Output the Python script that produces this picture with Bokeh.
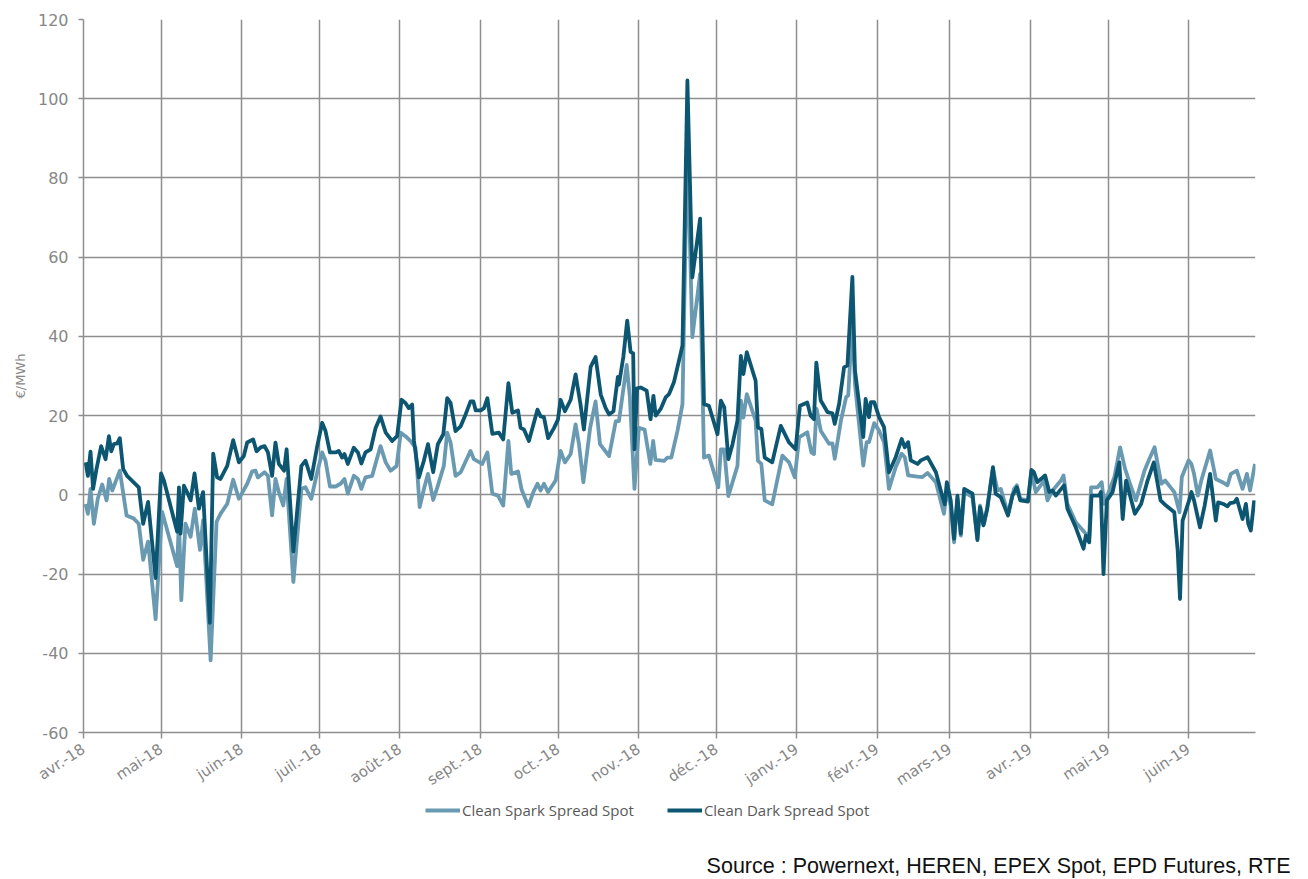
import math
import pandas as pd
from bokeh.plotting import figure
from bokeh.layouts import column, row
from bokeh.models import (Range1d, FixedTicker, Legend, LegendItem, Title, Div)
from bokeh.embed import file_html
from bokeh.resources import INLINE

# ---------------- data (days since 1 April 2018, €/MWh) ----------------
spark_day = [0.8, 1.7, 2.7, 4.0, 5.5, 7.2, 8.9, 9.9, 11.1, 14.0, 16.6, 19.4, 21.3, 23.0, 24.9, 27.8,
             30.3, 36.1, 36.8, 37.7, 39.3, 41.3, 42.9, 44.9, 46.1, 49.0, 51.3, 52.8, 55.4, 57.7,
             59.9, 63.1, 65.0, 66.3, 67.2, 69.8, 71.1, 72.7, 74.0,
             75.3, 77.0, 78.3, 80.9, 84.0, 85.6, 87.8, 90.1, 92.0, 93.3, 95.0, 97.2, 99.1, 100.6,
             101.9, 104.2, 105.8, 107.1, 108.7, 111.3, 112.9, 114.5, 116.5, 118.4, 120.7, 122.3,
             124.1, 126.0, 128.0, 129.6, 131.4, 132.8, 134.8, 136.4, 138.9, 140.2, 141.5, 143.4,
             145.4, 149.2, 150.5, 153.7, 155.7, 157.6, 159.8, 161.8, 163.8, 164.9, 167.5, 168.9,
             171.5, 173.4, 175.0, 176.2, 177.5, 179.1, 182.0, 183.9, 185.6, 187.8, 189.7, 191.0,
             192.7, 195.3, 197.4, 199.1, 202.6, 205.2, 206.4, 209.4, 210.6, 212.4, 214.1,
             216.3, 218.5, 219.6, 220.5, 223.8, 225.1, 226.6, 229.0, 230.9, 232.8, 234.7, 237.7,
             239.2, 241.1, 244.7, 245.7, 247.0, 248.6, 252.1, 253.4, 254.4, 255.7, 259.1, 260.0,
             261.3, 262.6, 265.5, 269.4, 272.0, 274.2, 275.9, 279.0, 280.6, 281.6, 282.6,
             284.2, 287.4, 288.7, 289.6, 292.0, 294.0, 294.8, 296.4, 297.4, 300.6, 301.9, 302.8,
             304.8, 306.7, 308.6, 310.5, 313.1, 315.4, 316.6, 317.9, 321.5, 323.4, 325.4, 328.6,
             331.7, 332.8, 334.3, 335.6, 336.9, 338.2, 339.5, 342.7, 344.6, 345.6, 347.2, 348.4,
             350.6, 352.3,
             353.6, 356.4, 358.7, 359.8, 361.1, 364.1, 365.4, 367.1, 370.3, 371.6, 373.6, 376.8,
             377.8, 379.3, 382.5, 386.4, 387.7, 388.4, 390.9, 392.5, 393.5, 395.0, 397.4, 399.6,
             401.5, 403.2, 405.7, 409.0, 410.9, 412.9, 415.5, 417.0, 420.5, 422.5, 423.4, 426.0,
             427.1, 428.1, 429.6, 430.9, 434.3, 436.5, 439.1, 441.0, 442.3, 444.6, 446.8, 448.5,
             449.7, 451.6]
spark_val = [-2.3, -4.8, 1.5, -7.3, -1.0, 2.6, -1.4, 4.0, 1.1, 6.1, -5.2, -6.0, -7.3, -16.4, -11.8, -31.4,
             -4.3, -18.0, -6.4, -26.6, -7.3, -10.6, -3.5, -13.9, -6.4, -41.8, -6.8, -4.8, -2.3, 3.8,
             -1.0, 2.8, 5.9, 6.1, 4.4, 5.7, 4.8, -5.2, 4.0,
             0.7, -2.7, 4.0, -22.0, 1.5, 1.9, -1.0, 5.7, 10.7, 8.6, 2.1, 2.1, 2.8, 4.0,
             0.3, 4.8, 4.0, 1.5, 4.4, 4.8, 8.6, 12.3, 8.2, 6.1, 7.3, 15.7,
             14.8, 13.6, 11.9, -3.1, 1.9, 5.3, -1.3, 1.9, 7.3, 15.7, 13.2, 4.8,
             5.7, 11.1, 9.0, 7.8, 10.7, 0.3, -0.2, -2.7, 13.6, 5.3, 5.9, 1.3,
             -2.9, 0.7, 2.8, 1.1, 2.8, 0.7, 3.6, 11.1, 8.2, 10.3, 17.8, 12.8,
             3.2, 16.9, 23.6, 12.8, 9.8, 18.6, 18.6, 32.8, 24.8, 1.5, 16.9,
             16.5, 7.8, 13.6, 8.8, 8.6, 9.4, 9.4, 16.2, 22.9, 90.0, 39.8, 55.8,
             9.4, 9.9, 1.9, 11.5, 11.5, -0.3, 7.3, 23.8, 19.5, 25.4, 18.7, 8.6,
             7.8, -1.4, -2.4, 9.9, 8.2, 4.4, 14.5, 15.8, 10.7, 10.3, 21.7,
             16.2, 12.9, 13.0, 9.1, 18.8, 24.7, 25.1, 44.0, 28.0, 7.4, 13.3, 13.3,
             18.1, 16.2, 13.3, 1.5, 7.0, 10.4, 9.5, 4.9, 4.6, 4.5, 5.5, 3.2,
             -4.8, 1.1, -2.7, -12.0, -1.0, -10.3, 0.7, -0.6, -11.1, -2.7, -7.3, -3.1,
             6.6, 1.1,
             1.5, -4.8, 1.5, 2.4, -1.0, -1.4, 5.7, 0.7, 3.6, -1.4, 1.1, 3.6,
             4.9, -2.3, -6.9, -9.8, -10.7, 1.9, 1.9, 3.2, -2.3, 0.3, 4.5, 12.0,
             6.6, 3.2, -1.4, 6.1, 9.1, 12.0, 2.8, 3.6, 0.7, -4.4, 4.5, 8.7,
             7.8, 5.3, -0.2, 3.6, 11.2, 4.0, 3.2, 2.4, 5.3, 6.1, 1.5, 5.3,
             1.1, 7.8]

dark_day = [0.8, 1.7, 2.7, 3.7, 5.0, 6.8, 8.5, 9.8, 10.7, 11.7, 13.0, 14.0, 15.3, 16.8, 21.3, 23.0,
            24.9, 27.8, 29.9, 31.0, 36.1, 36.8, 37.4, 38.7, 40.2, 41.3, 42.8, 44.5, 46.1, 48.7,
            50.0, 51.5, 52.8, 55.4, 57.7, 59.9, 61.8, 63.1, 65.4, 66.7, 68.3, 69.8, 71.1, 72.7, 74.0,
            75.3, 77.3, 78.3, 80.9, 84.0, 85.6, 87.8, 90.1, 92.0, 93.3, 95.0, 97.2, 98.4, 99.7,
            100.6, 101.9, 104.2, 105.8, 107.1, 108.7, 110.7, 112.6, 114.5, 116.5, 119.0, 120.9,
            122.6, 124.1, 125.4, 126.7, 127.4, 129.3, 131.2, 132.8, 134.8, 136.6, 138.7, 140.2,
            141.5, 143.4,
            145.4, 147.3, 149.2, 150.3, 151.2, 153.1, 154.4, 155.7, 157.6, 160.1, 161.8, 163.8,
            165.3, 167.5, 168.5, 169.8, 171.7, 173.7, 175.0, 176.2, 177.5, 179.1, 181.4, 182.9,
            183.9, 185.6, 187.8, 189.7, 191.6, 192.9, 195.5, 197.4, 199.4, 201.3, 202.6, 204.3,
            206.0, 206.4, 208.1, 209.6, 210.9, 211.9, 212.4, 213.4,
            214.8, 217.1, 218.6, 219.7, 220.6, 222.5, 224.4, 225.7, 227.6, 230.9, 232.8, 234.7,
            237.7, 239.2, 241.1, 244.4, 245.7, 247.0, 248.6, 250.2, 252.1, 253.4, 254.4, 255.7,
            259.1, 260.0, 261.3, 262.6, 265.5, 268.8, 272.0, 274.5, 276.2, 279.0, 280.3, 281.6,
            282.5,
            284.2, 286.8, 288.7, 289.6, 291.3, 293.2, 294.5, 296.4, 297.4, 300.6, 301.5, 302.8,
            303.5, 304.8, 306.7, 308.6, 310.5, 313.1, 315.4, 316.6, 317.9, 318.9, 321.5, 322.8,
            325.4, 328.6, 330.8, 332.0, 332.8, 334.3, 335.6, 336.9, 338.2, 339.5, 342.7, 344.6,
            345.6, 346.9, 348.4, 350.6, 351.6,
            353.6, 356.4, 358.1, 359.8, 361.1, 364.1, 365.4, 366.4, 367.7, 370.7, 372.3, 373.6,
            374.8, 378.0, 379.3, 382.5, 385.5, 386.4, 387.7, 388.6, 391.5, 392.2, 393.2, 394.5,
            396.7, 399.3, 400.6, 401.9, 405.3, 407.7, 410.2, 412.6, 415.2, 416.6, 420.5, 421.8,
            422.7, 423.7, 426.2, 427.1, 428.1, 430.4, 432.2, 434.3, 436.5, 437.4, 439.4, 441.0,
            442.0, 443.6, 444.6, 446.8, 448.1, 449.0, 450.0, 451.3]
dark_val = [8.2, 4.8, 10.9, 1.5, 6.5, 12.3, 9.0, 14.8, 11.0, 12.8, 13.0, 14.3, 6.5, 4.8, 1.9, -7.3,
            -1.8, -21.0, 5.4, 3.6, -9.3, 1.9, -9.8, 2.3, 0.3, -1.4, 5.4, -3.5, 0.7, -32.3,
            10.4, 4.4, 4.0, 7.3, 13.8, 8.2, 9.8, 13.2, 14.0, 11.0, 12.0, 12.3, 10.7, 4.8, 13.2,
            7.8, 6.1, 11.5, -14.3, 7.3, 8.6, 4.0, 12.3, 18.2, 16.1, 10.7, 10.7, 11.1, 9.4,
            10.3, 7.8, 11.9, 10.7, 7.9, 10.7, 11.5, 16.9, 19.8, 15.7, 13.6, 14.8,
            24.0, 23.2, 21.9, 22.8, 13.6, 4.4, 8.6, 12.8, 5.7, 12.8, 15.3, 24.4,
            23.2, 16.1,
            17.3, 20.3, 23.6, 23.6, 21.3, 21.3, 21.9, 24.4, 15.4, 15.7, 14.0, 28.2,
            20.7, 21.3, 16.9, 16.5, 13.6, 18.4, 21.5, 19.8, 19.6, 14.3, 16.9, 19.0,
            24.0, 21.1, 24.0, 30.4, 22.8, 16.5, 32.3, 34.8, 25.3, 21.9, 20.3, 21.1,
            29.8, 27.8, 34.8, 44.0, 36.1, 35.7, 11.5, 26.9,
            27.1, 26.3, 19.1, 25.0, 20.0, 21.7, 24.6, 25.4, 28.4, 37.7, 104.6, 54.9,
            69.7, 22.9, 22.5, 15.3, 23.8, 22.1, 9.0, 12.8, 18.7, 35.1, 30.5, 36.0,
            28.8, 17.0, 16.6, 9.4, 8.2, 17.4, 13.2, 11.5, 22.5, 23.3, 20.0, 19.1,
            33.4,
            23.8, 20.9, 20.6, 17.9, 23.0, 32.2, 32.7, 55.0, 31.4, 14.6, 24.2, 19.6,
            23.4, 23.4, 19.6, 17.1, 5.7, 9.5, 14.1, 12.0, 13.3, 8.7, 7.8, 8.7,
            9.5, 5.7, 0.3, -2.4, 3.2, -1.4, -11.1, -0.2, -9.8, 1.5, 0.3, -11.4,
            -3.1, -7.7, -3.5, 7.0, 0.3,
            -0.6, -5.2, -0.2, 1.9, -1.4, -1.7, 6.3, 5.7, 3.2, 4.9, 0.7, 1.1,
            -0.2, 2.4, -3.5, -8.2, -13.6, -10.3, -12.0, -0.2, -0.2, 0.7, -20.0, -1.4,
            0.7, 8.2, -6.1, 3.6, -4.8, -2.3, 3.6, 8.2, -1.4, -2.3, -4.4, -14.1,
            -26.3, -6.5, -1.4, 0.7, -1.4, -8.2, -2.7, 5.3, -6.5, -1.9, -2.3, -2.9,
            -2.1, -1.9, -1.0, -6.1, -2.3, -7.3, -9.0, -1.4]

month_labels = ["avr.-18", "mai-18", "juin-18", "juil.-18", "août-18", "sept.-18", "oct.-18",
                "nov.-18", "déc.-18", "janv.-19", "févr.-19", "mars-19", "avr.-19", "mai-19",
                "juin-19"]
y_ticks = [-60, -40, -20, 0, 20, 40, 60, 80, 100, 120]
y_tick_labels = ["-60", "-40", "-20", "0", "20", "40", "60", "80", "100", "120"]

series_names = ["Clean Spark Spread Spot", "Clean Dark Spread Spot"]
y_title = "€/MWh"
source_text = "Source : Powernext, HEREN, EPEX Spot, EPD Futures, RTE"

# ---------------- main chart ----------------
base = pd.Timestamp("2018-04-01")
month_starts = pd.date_range("2018-04-01", "2019-06-01", freq="MS")
month_ticks = [int((d - base).days) for d in month_starts]

W = 1305
H_MAIN = 800
H_FOOT = 79

p = figure(width=W, height=H_MAIN, output_backend="svg", toolbar_location=None,
           x_range=Range1d(0, 451.8), y_range=Range1d(-60, 120),
           min_border_left=83, min_border_top=19, min_border_right=W - 1255,
           min_border_bottom=H_MAIN - 732)
p.outline_line_color = None
p.background_fill_color = "white"
p.border_fill_color = "white"

light = "#6a9ab1"
dark = "#0d5672"
grid_c = "#8e8e8e"
text_grey = "#878787"

p.line(spark_day, spark_val, line_color=light, line_width=3.8, line_join="round")
p.line(dark_day, dark_val, line_color=dark, line_width=3.8, line_join="round")

# x axis
p.xaxis.ticker = FixedTicker(ticks=month_ticks)
p.xaxis.major_label_overrides = {t: lab for t, lab in zip(month_ticks, month_labels)}
p.xaxis.major_label_orientation = 0.58
p.xaxis.major_label_text_font = "DejaVu Sans"
p.xaxis.major_label_text_font_size = "15px"
p.xaxis.major_label_text_color = text_grey
p.xaxis.axis_line_color = grid_c
p.xaxis.axis_line_width = 1.5
p.xaxis.major_tick_line_color = grid_c
p.xaxis.major_tick_line_width = 1.5
p.xaxis.major_tick_out = 6
p.xaxis.major_tick_in = 0
p.xaxis.minor_tick_line_color = None
p.xaxis.major_label_standoff = 9

# y axis
p.yaxis.ticker = FixedTicker(ticks=y_ticks)
p.yaxis.major_label_overrides = {t: lab for t, lab in zip(y_ticks, y_tick_labels)}
p.yaxis.major_label_text_font = "DejaVu Sans"
p.yaxis.major_label_text_font_size = "16px"
p.yaxis.major_label_text_color = text_grey
p.yaxis.axis_line_color = grid_c
p.yaxis.axis_line_width = 1.5
p.yaxis.major_tick_line_color = grid_c
p.yaxis.major_tick_line_width = 1.5
p.yaxis.major_tick_out = 5
p.yaxis.major_tick_in = 0
p.yaxis.minor_tick_line_color = None
p.yaxis.major_label_standoff = 10
p.yaxis.axis_label = y_title
p.yaxis.axis_label_text_font = "DejaVu Sans"
p.yaxis.axis_label_text_font_style = "normal"
p.yaxis.axis_label_text_font_size = "13px"
p.yaxis.axis_label_text_color = text_grey
p.yaxis.axis_label_standoff = 7

p.xgrid.ticker = FixedTicker(ticks=month_ticks)
p.ygrid.ticker = FixedTicker(ticks=y_ticks)
p.xgrid.grid_line_color = grid_c
p.ygrid.grid_line_color = grid_c
p.xgrid.grid_line_width = 1.5
p.ygrid.grid_line_width = 1.5

# ---------------- footer: legend + source ----------------
f = figure(width=W, height=H_FOOT, output_backend="svg", toolbar_location=None,
           x_range=Range1d(83, 1255), y_range=Range1d(0, 1),
           min_border_left=83, min_border_right=W - 1255, min_border_top=0,
           min_border_bottom=4, x_axis_type=None, y_axis_type=None)
f.outline_line_color = None
f.grid.visible = False
f.background_fill_color = "white"
f.border_fill_color = "white"

# legend proxies (no visible data; they only carry the legend swatch styling)
k1 = f.line([math.nan], [math.nan], line_color=light, line_width=3.8)
k2 = f.line([math.nan], [math.nan], line_color=dark, line_width=3.8)
legend = Legend(items=[LegendItem(label=series_names[0], renderers=[k1]),
                       LegendItem(label=series_names[1], renderers=[k2])],
                orientation="horizontal", location=(425 - 83, 29))
legend.label_text_font = "Open Sans"
legend.label_text_font_size = "15px"
legend.label_text_color = "#595959"
legend.glyph_width = 35
legend.glyph_height = 14
legend.label_standoff = 2
legend.spacing = 33
legend.border_line_color = None
legend.background_fill_alpha = 0
legend.padding = 0
legend.margin = 0
f.add_layout(legend, "center")

src = Title(text=source_text, align="right", offset=-35, standoff=4,
            text_font="Liberation Sans", text_font_size="21.5px",
            text_font_style="normal", text_color="#111111")
f.add_layout(src, "below")

edge = Div(text="", width=3, height=H_MAIN + H_FOOT,
           styles={"background-color": "#0b5a78"})

layout = row(column(p, f, spacing=0), edge, spacing=0)
open("out.html", "w").write(file_html(layout, INLINE))
